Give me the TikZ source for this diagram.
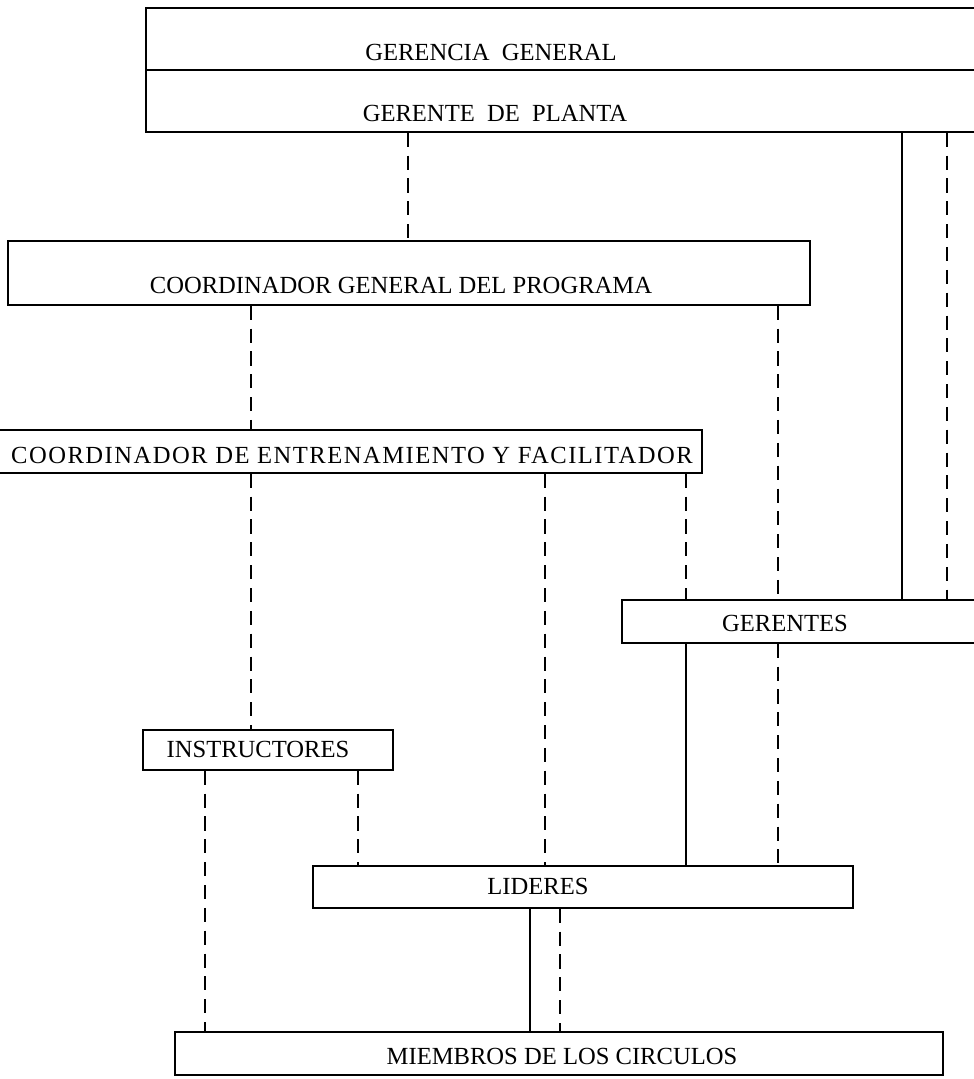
\documentclass[tikz,border=0pt]{standalone}
\usepackage{fontspec}
\setmainfont{Liberation Serif}
\usetikzlibrary{fit}
\begin{document}
\begin{tikzpicture}[x=0.02cm,y=-0.02cm,
  box/.style={draw,line width=0.9pt,inner sep=0pt},
  lbl/.style={inner sep=0pt,font=\fontsize{14}{16}\selectfont},
  solidln/.style={line width=1.1pt},
  dashln/.style={line width=1.1pt,dash pattern=on 8pt off 5pt}]
\useasboundingbox (0,0) rectangle (974,1079);
\clip (0,0) rectangle (974,1079);
% boxes
\node[box,fit={(146,8) (1010,132)}] (top) {};
\draw[line width=0.9pt] (top.west |- 0,70) -- (top.east |- 0,70);
\node[box,fit={(8,241) (810,305)}] (cg) {};
\node[box,fit={(-20,430) (702,473)}] (ce) {};
\node[box,fit={(622,600) (1010,643)}] (ger) {};
\node[box,fit={(143,730) (393,770)}] (ins) {};
\node[box,fit={(313,866) (853,908)}] (lid) {};
\node[box,fit={(175,1032) (943,1075)}] (mie) {};
% labels
\node[lbl] (tGG) at (491,52) {GERENCIA\ \ GENERAL};
\node[lbl] (tGP) at (495,113) {GERENTE\ \ DE\ \ PLANTA};
\node[lbl] (tCG) at (401,285) {COORDINADOR GENERAL DEL PROGRAMA};
\node[lbl] (tCE) at (352,455) {\addfontfeatures{LetterSpace=6}COORDINADOR DE ENTRENAMIENTO Y FACILITADOR};
\node[lbl] (tGR) at (785,623) {GERENTES};
\node[lbl] (tIN) at (258,749) {INSTRUCTORES};
\node[lbl] (tLI) at (538,886) {LIDERES};
\node[lbl] (tMI) at (562,1056) {MIEMBROS DE LOS CIRCULOS};
% column positions
\coordinate (c205) at (205,0);
\coordinate (c251) at (251,0);
\coordinate (c358) at (358,0);
\coordinate (c408) at (408,0);
\coordinate (c530) at (530,0);
\coordinate (c545) at (545,0);
\coordinate (c560) at (560,0);
\coordinate (c686) at (686,0);
\coordinate (c778) at (778,0);
\coordinate (c902) at (902,0);
\coordinate (c947) at (947,0);
% connectors
\draw[dashln] (top.south -| c408) -- (cg.north -| c408);
\draw[solidln] (top.south -| c902) -- (ger.north -| c902);
\draw[dashln] (top.south -| c947) -- (ger.north -| c947);
\draw[dashln] (cg.south -| c251) -- (ce.north -| c251);
\draw[dashln] (cg.south -| c778) -- (ger.north -| c778);
\draw[dashln] (ce.south -| c251) -- (ins.north -| c251);
\draw[dashln] (ce.south -| c545) -- (lid.north -| c545);
\draw[dashln] (ce.south -| c686) -- (ger.north -| c686);
\draw[solidln] (ger.south -| c686) -- (lid.north -| c686);
\draw[dashln] (ger.south -| c778) -- (lid.north -| c778);
\draw[dashln] (ins.south -| c205) -- (mie.north -| c205);
\draw[dashln] (ins.south -| c358) -- (lid.north -| c358);
\draw[solidln] (lid.south -| c530) -- (mie.north -| c530);
\draw[dashln] (lid.south -| c560) -- (mie.north -| c560);
\end{tikzpicture}
\end{document}
